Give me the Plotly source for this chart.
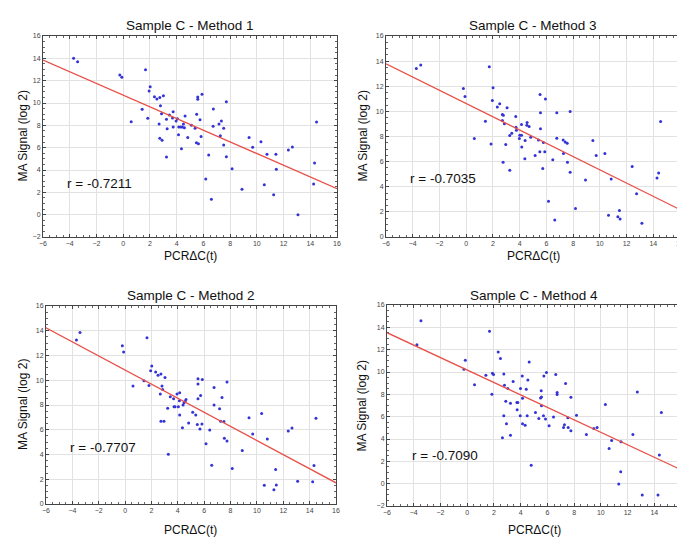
import plotly.graph_objects as go

# --- Data (PCR dC(t) vs MA signal) ---

# Method 1 (top left)
m1_x = [-3.71, -3.41, -0.25, -0.1, 0.6, 1.67, 1.42, 1.84, 1.94, 2.02, 2.34, 2.52, 2.74, 3.01, 2.79,
        2.69, 2.87, 2.74, 2.91, 3.24, 3.29, 3.24, 3.46, 3.69, 3.74, 3.74, 3.96, 4.06, 4.16, 4.14,
        4.31, 4.36, 4.43, 4.51, 4.58, 4.63, 4.83, 5.11, 5.38, 5.48, 5.5, 5.58, 5.58, 5.63, 5.75,
        5.83, 5.9, 6.18, 6.4, 6.6, 6.73, 6.75, 7.17, 7.27, 7.35, 7.52, 7.52, 7.72, 7.72, 8.15,
        8.89, 9.42, 9.69, 10.31, 10.56, 10.76, 11.26, 11.43, 11.46, 12.36, 12.66, 13.08, 14.25,
        14.32, 14.47]
m1_y = [14.0, 13.7, 12.5, 12.3, 8.33, 12.98, 9.43, 8.63, 11.07, 11.46, 10.57, 10.36, 10.5, 10.66, 9.76,
        8.12, 9.04, 6.84, 6.66, 8.54, 7.7, 5.16, 8.93, 8.66, 9.22, 7.85, 8.39, 8.6, 7.85, 7.16,
        7.85, 5.91, 7.85, 8.12, 7.79, 8.84, 6.9, 8.0, 7.73, 6.45, 8.99, 10.54, 10.33, 6.36, 8.51,
        7.01, 10.78, 3.19, 5.34, 1.37, 7.91, 9.46, 8.12, 7.07, 8.39, 7.73, 6.24, 10.12, 5.19, 4.12,
        2.27, 6.9, 6.03, 6.54, 2.69, 5.4, 1.79, 5.4, 4.06, 5.79, 6.06, 0.0, 2.75,
        4.63, 8.3]

# Method 3 (top right)
m3_x = [-3.73, -3.4, -0.21, -0.09, 0.61, 1.44, 1.73, 1.86, 1.96, 2.01, 2.33, 2.51, 2.71, 2.78, 2.71,
        2.86, 2.76, 3.06, 2.96, 3.26, 3.26, 3.41, 3.71, 3.73, 3.76, 3.98, 4.01, 4.14, 4.14, 4.16,
        4.41, 4.39, 4.56, 4.54, 4.71, 4.83, 5.16, 5.41, 5.53, 5.56, 5.56, 5.51, 5.73, 5.78, 5.88,
        5.93, 6.16, 6.48, 6.63, 6.78, 6.78, 7.26, 7.28, 7.41, 7.56, 7.58, 7.78, 7.78, 8.18, 8.93,
        9.48, 9.73, 10.38, 10.65, 10.85, 11.35, 11.47, 11.52, 12.42, 12.75, 13.15, 14.28, 14.4, 14.55]
m3_y = [13.42, 13.69, 11.83, 11.19, 7.84, 9.22, 13.55, 7.41, 10.87, 11.88, 10.34, 10.6, 9.75, 9.7, 9.27,
        9.01, 5.95, 10.28, 7.36, 5.31, 8.08, 8.26, 9.59, 8.74, 8.5, 7.84, 8.1, 8.95, 8.1, 7.17,
        7.68, 6.22, 9.11, 8.9, 8.8, 7.95, 6.48, 7.73, 11.35, 9.89, 8.61, 6.78, 5.45, 7.52, 6.78,
        10.98, 2.84, 6.14, 1.36, 9.89, 7.87, 7.73, 6.64, 7.57, 7.47, 5.95, 9.99, 5.16, 2.26, 4.54,
        7.68, 6.48, 6.64, 1.73, 4.62, 1.62, 2.1, 1.43, 5.61, 3.45, 1.09, 4.7, 5.1, 9.19]

# Method 2 (bottom left)
m2_x = [-3.69, -3.42, -0.21, -0.11, 0.6, 1.43, 1.66, 1.81, 1.94, 2.02, 2.32, 2.5, 2.72, 3.03, 2.8,
        2.67, 2.85, 2.72, 2.95, 3.23, 3.28, 3.43, 3.68, 3.71, 3.79, 3.94, 4.04, 4.14, 4.12, 4.14,
        4.35, 4.4, 4.47, 4.55, 4.62, 4.82, 5.13, 5.36, 5.48, 5.53, 5.53, 5.53, 5.68, 5.73, 5.83,
        5.86, 6.14, 6.42, 6.57, 6.75, 6.75, 7.17, 7.25, 7.35, 7.5, 7.53, 7.73, 7.73, 8.13, 8.89,
        9.4, 9.68, 10.36, 10.56, 10.79, 11.29, 11.42, 11.47, 12.38, 12.66, 13.09, 14.23, 14.33, 14.48]
m2_y = [13.26, 13.86, 12.78, 12.29, 9.53, 9.96, 13.43, 9.58, 10.77, 11.15, 10.67, 10.4, 10.5, 10.23, 9.53,
        8.88, 9.26, 6.69, 6.69, 7.74, 4.03, 8.66, 8.5, 7.85, 7.85, 8.88, 7.85, 8.99, 8.34, 7.2,
        6.17, 8.01, 8.18, 8.28, 8.45, 6.55, 7.42, 7.2, 6.42, 8.5, 10.12, 9.69, 6.06, 8.77, 6.47,
        10.07, 4.87, 5.98, 3.14, 9.42, 8.01, 7.69, 6.69, 8.61, 6.66, 5.31, 9.85, 5.09, 2.87, 4.33,
        6.96, 5.66, 7.31, 1.52, 5.25, 1.16, 2.79, 1.54, 5.9, 6.14, 1.84, 1.79, 3.11, 6.93]

# Method 4 (bottom right)
m4_x = [-3.76, -3.46, -0.14, -0.24, 0.55, 1.4, 1.67, 1.85, 1.89, 1.97, 2.32, 2.49, 2.74, 2.79, 2.74,
        2.64, 2.89, 2.94, 3.04, 3.24, 3.24, 3.44, 3.72, 3.74, 3.79, 3.97, 3.99, 4.12, 4.14, 4.14,
        4.34, 4.42, 4.49, 4.54, 4.64, 4.79, 5.11, 5.36, 5.49, 5.54, 5.56, 5.56, 5.71, 5.74, 5.86,
        5.93, 6.13, 6.46, 6.63, 6.73, 6.73, 7.21, 7.28, 7.36, 7.53, 7.56, 7.76, 7.76, 8.18, 8.92,
        9.47, 9.72, 10.34, 10.62, 10.81, 11.34, 11.49, 11.51, 12.4, 12.73, 13.1, 14.28, 14.38, 14.53]
m4_y = [12.45, 14.6, 11.05, 10.24, 8.85, 9.71, 13.64, 8.01, 9.89, 9.77, 11.8, 11.2, 9.83, 8.82, 6.08,
        4.11, 7.38, 5.36, 8.52, 7.2, 4.34, 9.14, 7.26, 6.61, 7.26, 6.08, 8.52, 9.65, 7.65, 5.36,
        5.24, 8.46, 6.08, 9.29, 10.9, 1.66, 6.37, 5.84, 7.68, 8.31, 7.77, 6.97, 6.08, 9.65, 5.78,
        9.95, 5.18, 5.96, 9.77, 8.16, 7.98, 5.03, 5.27, 8.97, 5.9, 5.03, 7.74, 4.73, 6.13, 4.4,
        4.94, 5.03, 7.08, 3.15, 3.87, -0.03, 1.07, 3.75, 4.4, 8.22, -1.02, -1.02, 2.56, 6.37]

# Fitted lines, read at the x-axis ends
fit_x = [-6, 16]
fit1_y = [13.85, 2.33]
fit3_y = [13.79, 2.18]
fit2_y = [14.24, 1.71]
fit4_y = [13.52, 1.25]

titles = ["Sample C - Method 1", "Sample C - Method 3", "Sample C - Method 2", "Sample C - Method 4"]
r_labels = ["r = -0.7211", "r = -0.7035", "r = -0.7707", "r = -0.7090"]
r_pos = [(-1.8, 2.8), (-1.7, 4.65), (-1.7, 4.6), (-1.65, 2.56)]
y_ranges = [[-2, 16], [0, 16], [0, 16], [-2, 16]]

panels = [(m1_x, m1_y, fit1_y), (m3_x, m3_y, fit3_y), (m2_x, m2_y, fit2_y), (m4_x, m4_y, fit4_y)]

W, H = 685, 537
# plot-area boxes in pixels (left, right, top, bottom) for tl, tr, bl, br
boxes = [(35, 329, 28, 229), (378, 672, 28, 229), (38, 328, 298, 496), (379, 673, 297, 498)]
# centres of panel title (y), x-axis title (y), y-axis title (x), in pixels
title_y = [17, 17, 287, 287]
xlab_y = [248, 248, 522, 522]
ylab_x = [14, 354, 15, 353]

FONT = "Liberation Sans, Arial, sans-serif"


def px(x):
    return x / W


def py(y):
    return 1 - y / H


fig = go.Figure()
annotations = []

for i, (xs, ys, fit_y) in enumerate(panels):
    n = "" if i == 0 else str(i + 1)
    fig.add_trace(go.Scatter(x=xs, y=ys, mode="markers", xaxis="x" + n, yaxis="y" + n,
                             marker=dict(size=3, color="#3333d6"), showlegend=False))
    fig.add_trace(go.Scatter(x=fit_x, y=fit_y, mode="lines", xaxis="x" + n, yaxis="y" + n,
                             line=dict(color="#e85048", width=1.3), showlegend=False))

    l, r, t, b = boxes[i]
    axis_style = dict(showgrid=True, gridcolor="#e2e2e2", gridwidth=1, zeroline=False,
                      showline=True, linecolor="#444", linewidth=1, mirror="ticks",
                      ticks="inside", ticklen=3, tickcolor="#444", automargin=False,
                      minor=dict(ticks="inside", ticklen=2, tickcolor="#666", showgrid=False),
                      tickfont=dict(size=7, color="#444", family=FONT))
    fig.update_layout({
        "xaxis" + n: dict(axis_style, domain=[px(l), px(r)], anchor="y" + n,
                          range=[-6, 16], dtick=2, tick0=-6),
        "yaxis" + n: dict(axis_style, domain=[py(b), py(t)], anchor="x" + n,
                          range=y_ranges[i], dtick=2),
    })

    xc = px((l + r) / 2)
    annotations.append(dict(text=titles[i], x=xc, y=py(title_y[i]), xref="paper", yref="paper",
                            xanchor="center", yanchor="middle", showarrow=False,
                            font=dict(size=13.5, family=FONT, color="#111")))
    annotations.append(dict(text="PCR\u0394C(t)", x=xc, y=py(xlab_y[i]), xref="paper", yref="paper",
                            xanchor="center", yanchor="middle", showarrow=False,
                            font=dict(size=12, family=FONT, color="#111")))
    annotations.append(dict(text="MA Signal (log 2)", x=px(ylab_x[i]), y=py((t + b) / 2),
                            xref="paper", yref="paper", xanchor="center", yanchor="middle",
                            textangle=-90, showarrow=False,
                            font=dict(size=12, family=FONT, color="#111")))
    annotations.append(dict(text=r_labels[i], x=r_pos[i][0], y=r_pos[i][1],
                            xref="x" + n, yref="y" + n, xanchor="center", yanchor="middle",
                            showarrow=False, font=dict(size=13.5, family=FONT, color="#111")))

fig.update_layout(
    width=W, height=H,
    margin=dict(l=0, r=0, t=0, b=0),
    paper_bgcolor="white", plot_bgcolor="white",
    annotations=annotations,
    font=dict(family=FONT),
)

fig.write_html("out.html")
